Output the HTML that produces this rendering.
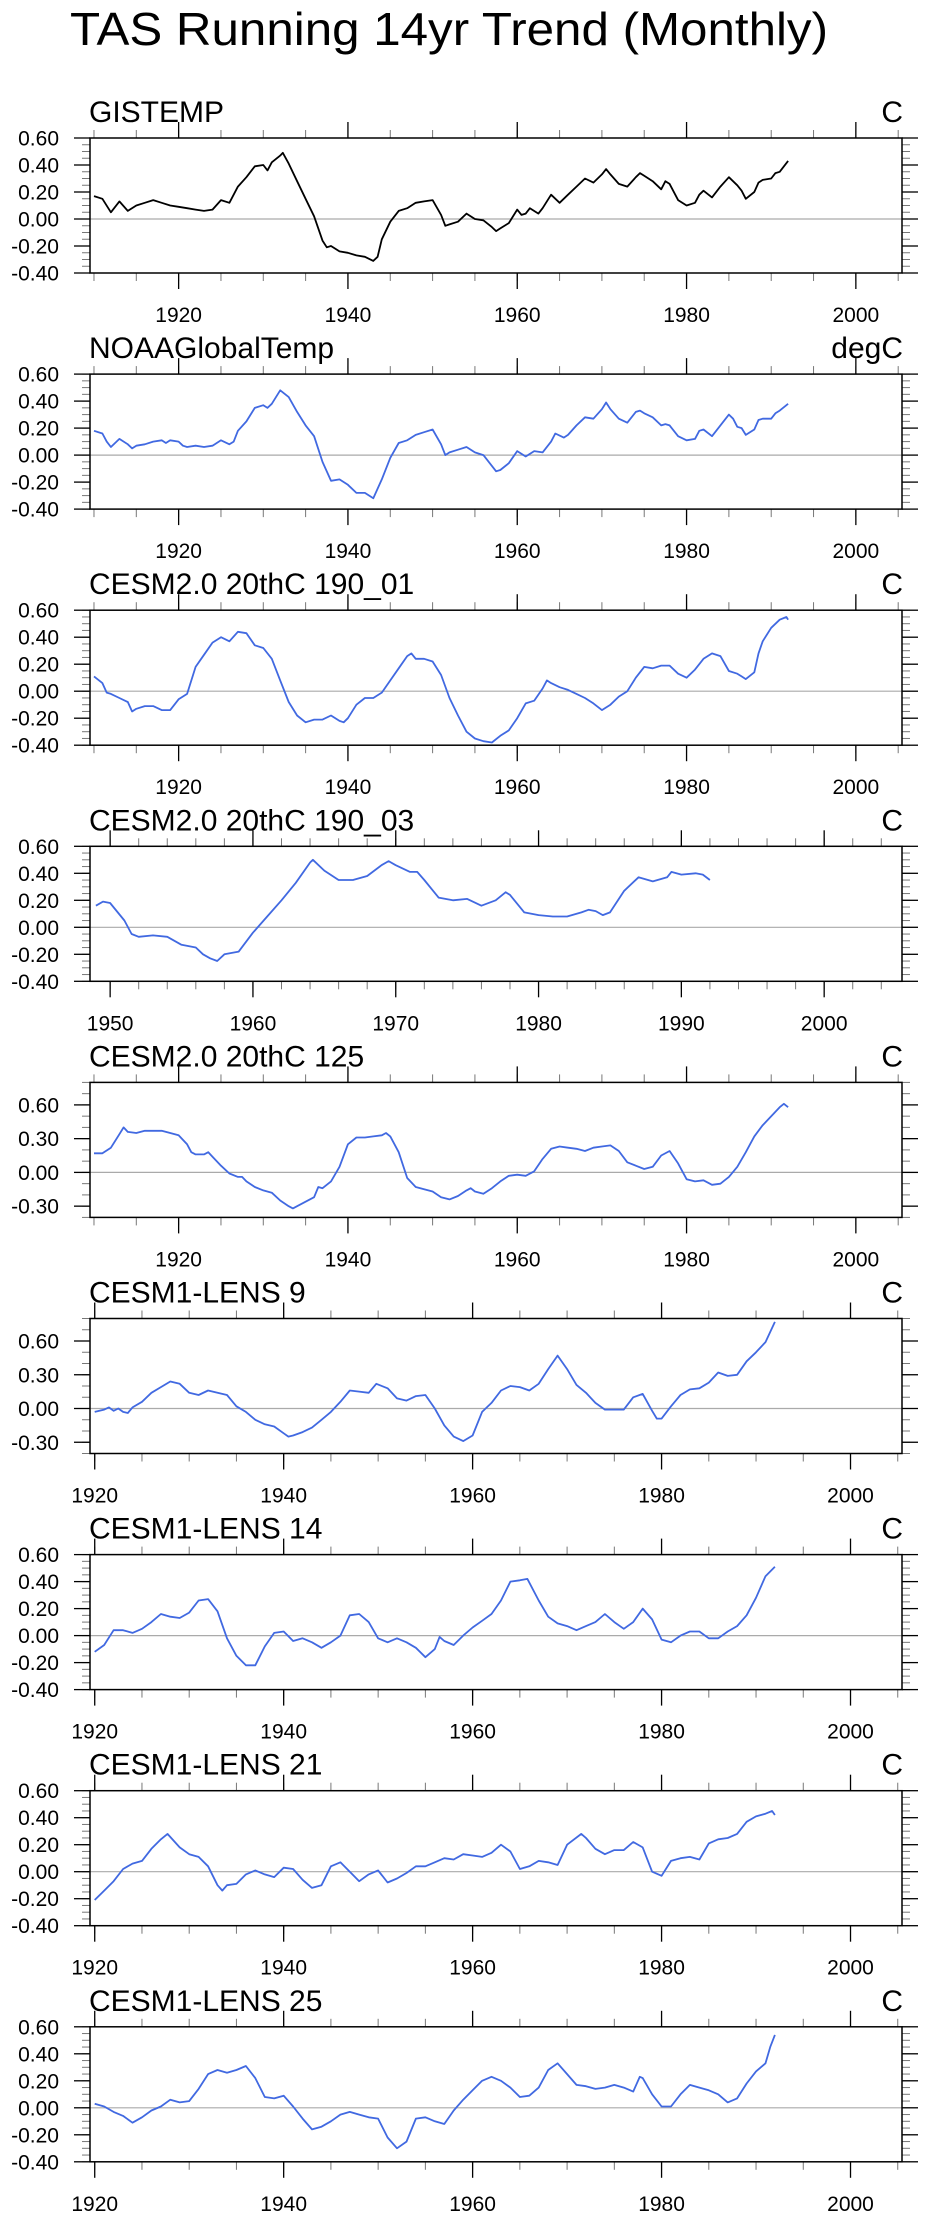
<!DOCTYPE html>
<html><head><meta charset="utf-8"><title>TAS Running 14yr Trend (Monthly)</title>
<style>html,body{margin:0;padding:0;background:#fff}svg{display:block;font-family:"Liberation Sans",Arial,sans-serif}</style>
</head><body>
<svg id="fig" width="928" height="2219" viewBox="0 0 928 2219" xmlns="http://www.w3.org/2000/svg">
<text x="70" y="45" font-size="46" textLength="758" lengthAdjust="spacingAndGlyphs">TAS Running 14yr Trend (Monthly)</text>
</svg>
<script>
// ---- data arrays (year, value) ----
const gisYears=[1910,1911,1912,1913,1914,1915,1916,1917,1918,1919,1920,1921,1922,1923,1924,1925,1926,1927,1928,1929,1930,1930.5,1931,1932,1932.3,1933,1934,1935,1936,1937,1937.5,1938,1939,1940,1941,1942,1943,1943.5,1944,1945,1946,1947,1948,1949,1950,1951,1951.5,1952,1953,1954,1955,1956,1957,1957.5,1958,1959,1960,1960.5,1961,1961.5,1962.5,1963,1964,1965,1966,1967,1968,1969,1970,1970.5,1971,1972,1973,1974,1974.5,1975,1976,1977,1977.5,1978,1979,1980,1981,1981.5,1982,1983,1984,1985,1986,1986.5,1987,1988,1988.5,1989,1990,1990.5,1991,1992];
const gisVals=[0.17,0.15,0.05,0.13,0.06,0.10,0.12,0.14,0.12,0.10,0.09,0.08,0.07,0.06,0.07,0.14,0.12,0.24,0.31,0.39,0.40,0.36,0.42,0.47,0.49,0.41,0.28,0.15,0.02,-0.16,-0.21,-0.20,-0.24,-0.25,-0.27,-0.28,-0.31,-0.28,-0.15,-0.02,0.06,0.08,0.12,0.13,0.14,0.03,-0.05,-0.04,-0.02,0.04,0.00,-0.01,-0.06,-0.09,-0.07,-0.03,0.07,0.03,0.04,0.08,0.04,0.08,0.18,0.12,0.18,0.24,0.30,0.27,0.33,0.37,0.33,0.26,0.24,0.31,0.34,0.32,0.28,0.22,0.28,0.26,0.14,0.10,0.12,0.18,0.21,0.16,0.24,0.31,0.25,0.21,0.15,0.20,0.27,0.29,0.30,0.34,0.35,0.43];
const noaaYears=[1910,1911,1911.5,1912,1912.5,1913,1914,1914.5,1915,1916,1917,1918,1918.5,1919,1920,1920.5,1921,1922,1923,1924,1925,1926,1926.5,1927,1928,1929,1930,1930.5,1931,1932,1933,1934,1935,1936,1937,1938,1939,1940,1941,1942,1943,1944,1945,1946,1947,1948,1949,1950,1951,1951.5,1952,1953,1954,1955,1956,1957,1957.5,1958,1959,1960,1961,1962,1963,1964,1964.5,1965.5,1966,1967,1968,1969,1970,1970.5,1971,1972,1973,1974,1974.5,1975,1976,1977,1977.5,1978,1979,1980,1981,1981.5,1982,1983,1984,1985,1985.5,1986,1986.5,1987,1988,1988.5,1989,1990,1990.5,1991,1992];
const noaaVals=[0.18,0.16,0.10,0.06,0.09,0.12,0.08,0.05,0.07,0.08,0.10,0.11,0.09,0.11,0.10,0.07,0.06,0.07,0.06,0.07,0.11,0.08,0.10,0.18,0.25,0.35,0.37,0.35,0.38,0.48,0.43,0.32,0.22,0.14,-0.05,-0.19,-0.18,-0.22,-0.28,-0.28,-0.32,-0.18,-0.02,0.09,0.11,0.15,0.17,0.19,0.08,0.00,0.02,0.04,0.06,0.02,0.00,-0.08,-0.12,-0.11,-0.06,0.03,-0.01,0.03,0.02,0.10,0.16,0.13,0.15,0.22,0.28,0.27,0.34,0.39,0.34,0.27,0.24,0.32,0.33,0.31,0.28,0.22,0.23,0.22,0.14,0.11,0.12,0.18,0.19,0.14,0.22,0.30,0.27,0.21,0.20,0.15,0.19,0.26,0.27,0.27,0.31,0.33,0.38];
const c01Years=[1910,1911,1911.5,1912,1913,1914,1914.5,1915,1916,1917,1918,1919,1920,1921,1922,1923,1924,1925,1926,1927,1928,1929,1930,1931,1932,1933,1934,1935,1936,1937,1938,1939,1939.5,1940,1941,1942,1943,1944,1945,1946,1947,1947.5,1948,1949,1950,1951,1952,1953,1954,1955,1956,1957,1958,1959,1960,1961,1962,1963,1963.5,1964,1965,1966,1967,1968,1969,1970,1971,1972,1973,1974,1975,1976,1977,1978,1979,1980,1981,1982,1983,1984,1985,1986,1986.5,1987,1988,1988.5,1989,1990,1991,1991.8,1992];
const c01Vals=[0.11,0.06,-0.01,-0.02,-0.05,-0.08,-0.15,-0.13,-0.11,-0.11,-0.14,-0.14,-0.06,-0.02,0.18,0.27,0.36,0.40,0.37,0.44,0.43,0.34,0.32,0.24,0.08,-0.08,-0.18,-0.23,-0.21,-0.21,-0.18,-0.22,-0.23,-0.20,-0.10,-0.05,-0.05,-0.01,0.08,0.17,0.26,0.28,0.24,0.24,0.22,0.12,-0.05,-0.18,-0.30,-0.35,-0.37,-0.38,-0.33,-0.29,-0.20,-0.09,-0.07,0.02,0.08,0.06,0.03,0.01,-0.02,-0.05,-0.09,-0.14,-0.10,-0.04,0.00,0.10,0.18,0.17,0.19,0.19,0.13,0.10,0.16,0.24,0.28,0.26,0.15,0.13,0.11,0.09,0.14,0.28,0.37,0.47,0.53,0.55,0.53];
const c03Years=[1949,1949.5,1950,1951,1951.5,1952,1953,1954,1955,1956,1956.5,1957,1957.5,1958,1959,1960,1961,1962,1963,1964,1964.2,1965,1966,1967,1968,1969,1969.5,1970,1971,1971.5,1972,1973,1974,1975,1976,1977,1977.7,1978,1979,1980,1981,1982,1983,1983.5,1984,1984.5,1985,1986,1987,1988,1989,1989.3,1990,1991,1991.5,1992];
const c03Vals=[0.16,0.19,0.18,0.05,-0.05,-0.07,-0.06,-0.07,-0.13,-0.15,-0.20,-0.23,-0.25,-0.20,-0.18,-0.04,0.08,0.20,0.33,0.48,0.50,0.42,0.35,0.35,0.38,0.46,0.49,0.46,0.41,0.41,0.35,0.22,0.20,0.21,0.16,0.20,0.26,0.24,0.11,0.09,0.08,0.08,0.11,0.13,0.12,0.09,0.11,0.27,0.37,0.34,0.37,0.41,0.39,0.40,0.39,0.35];
const c125Years=[1910,1911,1912,1913,1913.5,1914,1915,1916,1917,1918,1919,1920,1921,1921.5,1922,1923,1923.5,1924,1925,1926,1927,1927.5,1928,1929,1930,1931,1932,1933,1933.5,1934,1935,1936,1936.5,1937,1938,1939,1940,1941,1942,1943,1944,1944.5,1945,1946,1947,1948,1949,1950,1951,1952,1953,1954,1954.5,1955,1956,1957,1958,1959,1960,1961,1962,1963,1964,1965,1966,1967,1968,1969,1970,1971,1972,1973,1974,1975,1976,1977,1978,1979,1980,1981,1982,1983,1984,1985,1986,1987,1988,1989,1990,1991,1991.5,1992];
const c125Vals=[0.17,0.17,0.22,0.34,0.40,0.36,0.35,0.37,0.37,0.37,0.35,0.33,0.25,0.18,0.16,0.16,0.18,0.14,0.06,-0.01,-0.04,-0.04,-0.08,-0.13,-0.16,-0.18,-0.25,-0.30,-0.32,-0.30,-0.26,-0.22,-0.13,-0.14,-0.08,0.05,0.25,0.31,0.31,0.32,0.33,0.35,0.32,0.18,-0.05,-0.13,-0.15,-0.17,-0.22,-0.24,-0.21,-0.16,-0.14,-0.17,-0.19,-0.14,-0.08,-0.03,-0.02,-0.03,0.01,0.12,0.21,0.23,0.22,0.21,0.19,0.22,0.23,0.24,0.19,0.09,0.06,0.03,0.05,0.15,0.19,0.08,-0.06,-0.08,-0.07,-0.11,-0.10,-0.04,0.05,0.18,0.32,0.42,0.50,0.58,0.61,0.58];
const l9Years=[1920,1921,1921.5,1922,1922.5,1923,1923.5,1924,1925,1926,1927,1928,1929,1930,1931,1932,1933,1934,1935,1936,1937,1938,1939,1940,1940.5,1941,1942,1943,1944,1945,1946,1947,1948,1949,1949.8,1951,1952,1953,1954,1955,1956,1957,1958,1959,1960,1961,1962,1963,1964,1965,1966,1967,1968,1969,1970,1971,1972,1973,1974,1975,1976,1977,1978,1979,1979.5,1980,1981,1982,1983,1984,1985,1986,1987,1988,1989,1990,1991,1992];
const l9Vals=[-0.03,-0.01,0.01,-0.02,0.00,-0.03,-0.04,0.01,0.06,0.14,0.19,0.24,0.22,0.14,0.12,0.16,0.14,0.12,0.02,-0.03,-0.10,-0.14,-0.16,-0.22,-0.25,-0.24,-0.21,-0.17,-0.10,-0.03,0.06,0.16,0.15,0.14,0.22,0.18,0.09,0.07,0.11,0.12,0.00,-0.15,-0.25,-0.29,-0.24,-0.03,0.05,0.16,0.20,0.19,0.16,0.22,0.35,0.47,0.35,0.21,0.14,0.05,-0.01,-0.01,-0.01,0.10,0.13,-0.02,-0.09,-0.09,0.02,0.12,0.17,0.18,0.23,0.32,0.29,0.30,0.42,0.50,0.59,0.77];
const l14Years=[1920,1921,1922,1923,1924,1925,1926,1927,1928,1929,1930,1931,1932,1933,1934,1935,1936,1937,1938,1939,1940,1941,1942,1943,1944,1945,1946,1947,1948,1949,1950,1951,1952,1953,1954,1955,1956,1956.5,1957,1958,1959,1960,1961,1962,1963,1964,1965,1965.8,1967,1968,1969,1970,1971,1972,1973,1974,1975,1976,1977,1978,1979,1980,1981,1982,1983,1984,1985,1986,1987,1988,1989,1990,1991,1992];
const l14Vals=[-0.12,-0.07,0.04,0.04,0.02,0.05,0.10,0.16,0.14,0.13,0.17,0.26,0.27,0.18,-0.02,-0.15,-0.22,-0.22,-0.08,0.02,0.03,-0.04,-0.02,-0.05,-0.09,-0.05,0.00,0.15,0.16,0.10,-0.02,-0.05,-0.02,-0.05,-0.09,-0.16,-0.10,-0.01,-0.04,-0.07,0.00,0.06,0.11,0.16,0.26,0.40,0.41,0.42,0.26,0.14,0.09,0.07,0.04,0.07,0.10,0.16,0.10,0.05,0.10,0.20,0.12,-0.03,-0.05,0.00,0.03,0.03,-0.02,-0.02,0.03,0.07,0.15,0.28,0.44,0.51];
const l21Years=[1920,1921,1922,1923,1924,1925,1926,1927,1927.7,1929,1930,1931,1932,1933,1933.5,1934,1935,1936,1937,1938,1939,1940,1941,1942,1943,1944,1945,1946,1947,1948,1949,1950,1951,1952,1953,1954,1955,1956,1957,1958,1959,1960,1961,1962,1963,1964,1965,1966,1967,1968,1969,1970,1971.5,1972,1973,1974,1975,1976,1977,1978,1979,1980,1981,1982,1983,1984,1985,1986,1987,1988,1989,1990,1991,1991.7,1992];
const l21Vals=[-0.21,-0.14,-0.07,0.02,0.06,0.08,0.17,0.24,0.28,0.18,0.13,0.11,0.04,-0.10,-0.14,-0.10,-0.09,-0.02,0.01,-0.02,-0.04,0.03,0.02,-0.06,-0.12,-0.10,0.04,0.07,0.00,-0.07,-0.02,0.01,-0.08,-0.05,-0.01,0.04,0.04,0.07,0.10,0.09,0.13,0.12,0.11,0.14,0.20,0.15,0.02,0.04,0.08,0.07,0.05,0.20,0.28,0.25,0.17,0.13,0.16,0.16,0.22,0.18,0.00,-0.03,0.08,0.10,0.11,0.09,0.21,0.24,0.25,0.28,0.37,0.41,0.43,0.45,0.42];
const l25Years=[1920,1921,1922,1923,1924,1925,1926,1927,1928,1929,1930,1931,1932,1933,1934,1935,1936,1937,1938,1939,1940,1941,1942,1943,1944,1945,1946,1947,1948,1949,1950,1951,1952,1953,1954,1955,1956,1957,1958,1959,1960,1961,1962,1963,1964,1965,1966,1967,1968,1969,1970,1971,1972,1973,1974,1975,1976,1977,1977.7,1978,1979,1980,1981,1982,1983,1984,1985,1986,1987,1988,1989,1990,1991,1991.5,1992];
const l25Vals=[0.03,0.01,-0.03,-0.06,-0.11,-0.07,-0.02,0.01,0.06,0.04,0.05,0.14,0.25,0.28,0.26,0.28,0.31,0.22,0.08,0.07,0.09,0.01,-0.08,-0.16,-0.14,-0.10,-0.05,-0.03,-0.05,-0.07,-0.08,-0.22,-0.30,-0.25,-0.08,-0.07,-0.10,-0.12,-0.02,0.06,0.13,0.20,0.23,0.20,0.15,0.08,0.09,0.15,0.28,0.33,0.25,0.17,0.16,0.14,0.15,0.17,0.15,0.12,0.23,0.22,0.10,0.01,0.01,0.10,0.17,0.15,0.13,0.10,0.04,0.07,0.18,0.27,0.33,0.45,0.54];
// tick label arrays
const yTicksA=[0.6,0.4,0.2,0.0,-0.2,-0.4];
const yTicksB=[0.6,0.3,0.0,-0.3];
const xTicks20=[1920,1940,1960,1980,2000];
const xTicks10=[1950,1960,1970,1980,1990,2000];
const panelTitles=["GISTEMP","NOAAGlobalTemp","CESM2.0 20thC 190_01","CESM2.0 20thC 190_03","CESM2.0 20thC 125","CESM1-LENS 9","CESM1-LENS 14","CESM1-LENS 21","CESM1-LENS 25"];
const panelUnits=["C","degC","C","C","C","C","C","C","C"];

const NS="http://www.w3.org/2000/svg";
const svg=document.getElementById('fig');
function mk(tag,attrs,parent){const e=document.createElementNS(NS,tag);for(const k in attrs)e.setAttribute(k,attrs[k]);(parent||svg).appendChild(e);return e;}

const panels=[
 {xs:gisYears,ys:gisVals,x0:1909.53,ymin:-0.4,ymax:0.6,yt:yTicksA,ym:0.05,xt:xTicks20,xm:5,col:"#000"},
 {xs:noaaYears,ys:noaaVals,x0:1909.53,ymin:-0.4,ymax:0.6,yt:yTicksA,ym:0.05,xt:xTicks20,xm:5,col:"#4169e1"},
 {xs:c01Years,ys:c01Vals,x0:1909.53,ymin:-0.4,ymax:0.6,yt:yTicksA,ym:0.05,xt:xTicks20,xm:5,col:"#4169e1"},
 {xs:c03Years,ys:c03Vals,x0:1948.59,ymin:-0.4,ymax:0.6,yt:yTicksA,ym:0.05,xt:xTicks10,xm:2,col:"#4169e1"},
 {xs:c125Years,ys:c125Vals,x0:1909.53,ymin:-0.4,ymax:0.8,yt:yTicksB,ym:0.1,xt:xTicks20,xm:5,col:"#4169e1"},
 {xs:l9Years,ys:l9Vals,x0:1919.5,ymin:-0.4,ymax:0.8,yt:yTicksB,ym:0.1,xt:xTicks20,xm:5,col:"#4169e1"},
 {xs:l14Years,ys:l14Vals,x0:1919.5,ymin:-0.4,ymax:0.6,yt:yTicksA,ym:0.05,xt:xTicks20,xm:5,col:"#4169e1"},
 {xs:l21Years,ys:l21Vals,x0:1919.5,ymin:-0.4,ymax:0.6,yt:yTicksA,ym:0.05,xt:xTicks20,xm:5,col:"#4169e1"},
 {xs:l25Years,ys:l25Vals,x0:1919.5,ymin:-0.4,ymax:0.6,yt:yTicksA,ym:0.05,xt:xTicks20,xm:5,col:"#4169e1"}
];
const L=90,R=902,H=135,X1=2005.45;
panels.forEach((p,i)=>{
  const top=138+i*236.1, bot=top+H;
  const g=mk('g',{});
  
  
  const xs=v=>L+(v-p.x0)/(X1-p.x0)*(R-L);
  const ys=v=>bot-(v-p.ymin)/(p.ymax-p.ymin)*H;
  // title / units
  const t=mk('text',{x:89,y:top-16,'font-size':30},g);t.textContent=panelTitles[i];
  
  
  const u=mk('text',{x:903,y:top-16,'font-size':30,'text-anchor':'end'},g);u.textContent=panelUnits[i];
  
  
  // zero line
  const z=mk('line',{x1:L,x2:R,y1:ys(0),y2:ys(0),stroke:'#aaa','stroke-width':1.2},g);
  
  
  // minor y ticks
  for(let v=p.ymin;v<=p.ymax+1e-6;v+=p.ym){const y=ys(v);
    mk('line',{x1:L-8,x2:L,y1:y,y2:y,stroke:'#777','stroke-width':1},g);
    mk('line',{x1:R,x2:R+8,y1:y,y2:y,stroke:'#777','stroke-width':1},g);}
  // major y ticks + labels
  p.yt.forEach(v=>{const y=ys(v);
    mk('line',{x1:L-16,x2:L,y1:y,y2:y,stroke:'#000','stroke-width':1.3},g);
    mk('line',{x1:R,x2:R+16,y1:y,y2:y,stroke:'#000','stroke-width':1.3},g);
    const lb=mk('text',{x:59,y:y+7.5,'font-size':21,'text-anchor':'end'},g);lb.textContent=v.toFixed(2);
    
    });
  // minor x ticks
  for(let v=Math.ceil(p.x0/p.xm)*p.xm;v<=X1;v+=p.xm){const x=xs(v);
    mk('line',{x1:x,x2:x,y1:top-8,y2:top,stroke:'#777','stroke-width':1},g);
    mk('line',{x1:x,x2:x,y1:bot,y2:bot+8,stroke:'#777','stroke-width':1},g);}
  p.xt.forEach(v=>{const x=xs(v);
    mk('line',{x1:x,x2:x,y1:top-16,y2:top,stroke:'#000','stroke-width':1.3},g);
    mk('line',{x1:x,x2:x,y1:bot,y2:bot+16,stroke:'#000','stroke-width':1.3},g);
    const lb=mk('text',{x:x,y:bot+49,'font-size':21,'text-anchor':'middle'},g);lb.textContent=v;
    
    });
  // frame
  const f=mk('rect',{x:L,y:top,width:R-L,height:H,fill:'none',stroke:'#000','stroke-width':1.5},g);
  
  
  // series
  const pts=p.xs.map((x,k)=>xs(x).toFixed(1)+','+ys(p.ys[k]).toFixed(1)).join(' ');
  const pl=mk('polyline',{points:pts,fill:'none',stroke:p.col,'stroke-width':1.8,'stroke-linejoin':'round'},g);
  
  
});
</script>
</body></html>
